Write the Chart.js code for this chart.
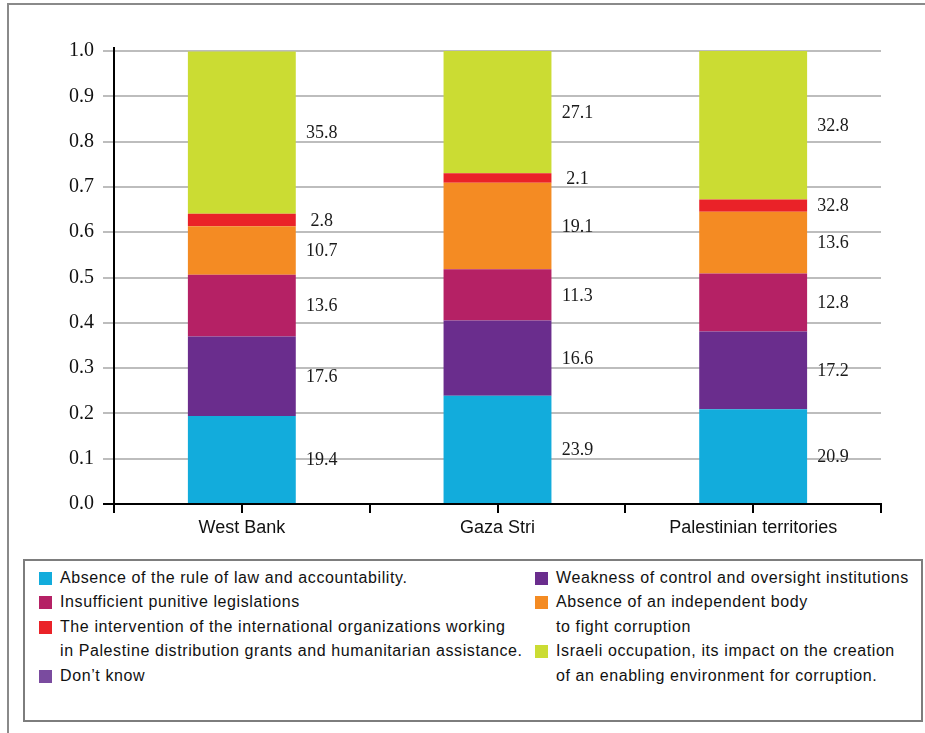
<!DOCTYPE html>
<html>
<head>
<meta charset="utf-8">
<script src="https://cdn.jsdelivr.net/npm/chart.js@4.4.1/dist/chart.umd.min.js"></script>
<style>
  html, body { margin: 0; padding: 0; background: #fff; }
  #page { position: relative; width: 925px; height: 733px; overflow: hidden; }
  #frame { position: absolute; left: 7px; top: 3px; width: 940px; height: 760px;
           border-left: 2px solid #8a8a8a; border-top: 2px solid #8a8a8a; }
  #plot { position: absolute; left: 0; top: 0; }
  #legend { position: absolute; left: 23px; top: 559px; width: 896px; height: 159px;
            border: 2px solid #7d7d7d; font-family: "Liberation Sans", Arial, sans-serif;
            font-size: 16px; color: #111; }
  .row { position: absolute; height: 24.5px; line-height: 24.5px; white-space: nowrap; letter-spacing: 0.6px; }
  .sw { position: absolute; width: 13px; height: 13px; }
</style>
</head>
<body>
<div id="page">
  <div id="frame"></div>
  <canvas id="plot" width="925" height="550"></canvas>
  <div id="legend"></div>
</div>
<script>
// Regions on the x axis
const categories = ['West Bank', 'Gaza Stri', 'Palestinian territories'];

// Share of respondents (%) naming each cause of corruption
const ruleOfLaw       = [19.4, 23.9, 20.9];
const weakOversight   = [17.6, 16.6, 17.2];
const punitiveLaws    = [13.6, 11.3, 12.8];
const independentBody = [10.7, 19.1, 13.6];
const intlOrgs        = [2.8, 2.1, 2.7];
const occupation      = [35.8, 27.1, 32.8];

// Value labels as printed beside each segment (the territories' red label repeats 32.8)
const ruleOfLawText       = ['19.4', '23.9', '20.9'];
const weakOversightText   = ['17.6', '16.6', '17.2'];
const punitiveLawsText    = ['13.6', '11.3', '12.8'];
const independentBodyText = ['10.7', '19.1', '13.6'];
const intlOrgsText        = ['2.8', '2.1', '32.8'];
const occupationText      = ['35.8', '27.1', '32.8'];

// Y axis tick values
const yTicks = [0, 0.1, 0.2, 0.3, 0.4, 0.5, 0.6, 0.7, 0.8, 0.9, 1.0];

const COLORS = {
  ruleOfLaw: '#12acdc',
  weakOversight: '#6a2d8d',
  punitiveLaws: '#b52165',
  independentBody: '#f48b23',
  intlOrgs: '#ea2228',
  occupation: '#cbdc33',
  dontKnow: '#7a4b9f'
};

const toShare = arr => arr.map(v => v / 100);

const datasets = [
  { label: 'Absence of the rule of law and accountability.', data: toShare(ruleOfLaw), printed: ruleOfLawText, backgroundColor: COLORS.ruleOfLaw },
  { label: 'Weakness of control and oversight institutions', data: toShare(weakOversight), printed: weakOversightText, backgroundColor: COLORS.weakOversight },
  { label: 'Insufficient punitive legislations', data: toShare(punitiveLaws), printed: punitiveLawsText, backgroundColor: COLORS.punitiveLaws },
  { label: 'Absence of an independent body to fight corruption', data: toShare(independentBody), printed: independentBodyText, backgroundColor: COLORS.independentBody },
  { label: 'The intervention of the international organizations', data: toShare(intlOrgs), printed: intlOrgsText, backgroundColor: COLORS.intlOrgs },
  { label: 'Israeli occupation', data: toShare(occupation), printed: occupationText, backgroundColor: COLORS.occupation }
];

// Numbers written to the right of every segment, centred on it vertically
const valueLabels = {
  id: 'valueLabels',
  afterDatasetsDraw(chart) {
    const ctx = chart.ctx;
    ctx.save();
    ctx.font = '18px "Liberation Serif", "Times New Roman", serif';
    ctx.fillStyle = '#1a1a1a';
    ctx.textAlign = 'center';
    ctx.textBaseline = 'middle';
    chart.data.datasets.forEach((ds, di) => {
      chart.getDatasetMeta(di).data.forEach((bar, i) => {
        const p = bar.getProps(['x', 'y', 'base', 'width'], true);
        ctx.fillText(ds.printed[i], p.x + p.width / 2 + 26, (p.y + p.base) / 2 + 1);
      });
    });
    ctx.restore();
  }
};

// Tick marks under each category centre (boundary ticks come from the grid)
const centreTicks = {
  id: 'centreTicks',
  afterDraw(chart) {
    const xs = chart.scales.x, ctx = chart.ctx;
    ctx.save();
    ctx.strokeStyle = '#000';
    ctx.lineWidth = 2;
    xs.ticks.forEach((t, i) => {
      const px = Math.round(xs.getPixelForTick(i));
      ctx.beginPath();
      ctx.moveTo(px, xs.top);
      ctx.lineTo(px, xs.top + 9);
      ctx.stroke();
    });
    // y axis line runs a little past the top gridline
    const ys = chart.scales.y;
    ctx.beginPath();
    ctx.moveTo(chart.chartArea.left, ys.top - 4);
    ctx.lineTo(chart.chartArea.left, ys.top);
    ctx.stroke();
    ctx.restore();
  }
};

new Chart(document.getElementById('plot'), {
  type: 'bar',
  data: { labels: categories, datasets },
  options: {
    responsive: false,
    animation: false,
    devicePixelRatio: 1,
    layout: { padding: { top: 51, right: 44, left: 0, bottom: 0 } },
    plugins: { legend: { display: false }, tooltip: { enabled: false } },
    datasets: { bar: { categoryPercentage: 1, barPercentage: 0.422, borderWidth: 0 } },
    scales: {
      x: {
        stacked: true,
        grid: { offset: true, drawOnChartArea: false, color: '#000', lineWidth: 2, tickLength: 9 },
        border: { color: '#000', width: 2 },
        ticks: { font: { family: '"Liberation Sans", Arial, sans-serif', size: 18 }, color: '#111', padding: 4 },
        afterFit(s) { s.height = 46; }
      },
      y: {
        stacked: true,
        min: 0,
        max: 1,
        afterBuildTicks(s) { s.ticks = yTicks.map(v => ({ value: v })); },
        ticks: {
          callback: v => Number(v).toFixed(1),
          font: { family: '"Liberation Serif", "Times New Roman", serif', size: 20 },
          color: '#111',
          padding: 9
        },
        grid: {
          color: '#bdbdbd',
          lineWidth: 2,
          tickLength: 11,
          tickColor: c => (c.tick && c.tick.value === 0 ? '#000' : '#bdbdbd')
        },
        border: { color: '#000', width: 2 },
        afterFit(s) { s.width = 114; }
      }
    }
  },
  plugins: [valueLabels, centreTicks]
});

// Two-column legend below the plot
const legendColumns = [
  [
    { color: COLORS.ruleOfLaw, lines: ['Absence of the rule of law and accountability.'] },
    { color: COLORS.punitiveLaws, lines: ['Insufficient punitive legislations'] },
    { color: COLORS.intlOrgs, lines: ['The intervention of the international organizations working', 'in Palestine distribution grants and humanitarian assistance.'] },
    { color: COLORS.dontKnow, lines: ["Don\u2019t know"] }
  ],
  [
    { color: COLORS.weakOversight, lines: ['Weakness of control and oversight institutions'] },
    { color: COLORS.independentBody, lines: ['Absence of an independent body', 'to fight corruption'] },
    { color: COLORS.occupation, lines: ['Israeli occupation, its impact on the creation', 'of an enabling environment for corruption.'] }
  ]
];

const legendEl = document.getElementById('legend');
const colX = [14, 510];
const rowH = 24.5, firstRow = 4.5;
legendColumns.forEach((col, ci) => {
  let row = 0;
  col.forEach(item => {
    const top = firstRow + row * rowH;
    const sw = document.createElement('div');
    sw.className = 'sw';
    sw.style.background = item.color;
    sw.style.left = colX[ci] + 'px';
    sw.style.top = (top + 6) + 'px';
    legendEl.appendChild(sw);
    item.lines.forEach((txt, li) => {
      const r = document.createElement('div');
      r.className = 'row';
      r.style.left = (colX[ci] + 21) + 'px';
      r.style.top = (top + li * rowH) + 'px';
      r.textContent = txt;
      legendEl.appendChild(r);
    });
    row += item.lines.length;
  });
});
</script>
</body>
</html>
